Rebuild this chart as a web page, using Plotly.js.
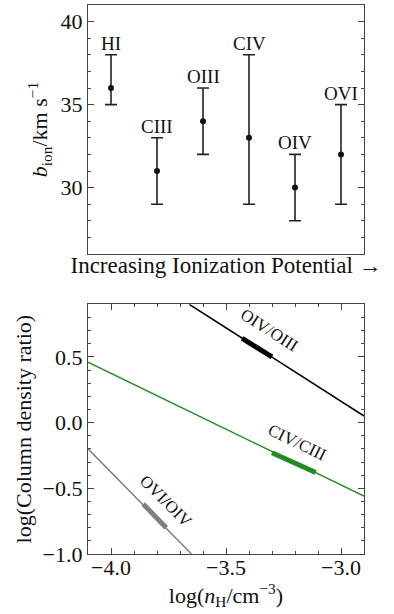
<!DOCTYPE html>
<html>
<head>
<meta charset="utf-8">
<script src="https://cdn.plot.ly/plotly-3.0.1.min.js"></script>
<style>
  html, body { margin: 0; padding: 0; background: #fff; }
  #chart { width: 394px; height: 614px; }
</style>
</head>
<body>
<div id="chart"></div>
<script>
// top panel: Doppler b per ion
const ions = ["HI", "CIII", "OIII", "CIV", "OIV", "OVI"];
const bVals = [36, 31, 34, 33, 30, 32];
const bUpper = [38, 33, 36, 38, 32, 35];
const bLower = [35, 29, 32, 29, 28, 29];

// bottom panel: column density ratio vs log nH
const oivX = [-3.66, -2.9];
const oivY = [0.90, 0.05];
const oivFitX = [-3.43, -3.30];
const oivFitY = [0.64, 0.50];

const civX = [-4.1, -2.9];
const civY = [0.46, -0.56];
const civFitX = [-3.30, -3.11];
const civFitY = [-0.23, -0.38];

const oviX = [-4.1, -3.65];
const oviY = [-0.20, -1.00];
const oviFitX = [-3.86, -3.76];
const oviFitY = [-0.62, -0.80];

const ratioLabels = [
  { text: "OIV/OIII", x: -3.31, y: 0.70, angle: 32.7 },
  { text: "CIV/CIII", x: -3.19, y: -0.15, angle: 26 },
  { text: "OVI/OIV", x: -3.76, y: -0.60, angle: 45 }
];

const FONT = "Liberation Serif, DejaVu Serif, serif";
const AX = "#444";

const xIdx = ions.map((_, i) => i);

const traces = [
  {
    x: xIdx, y: bVals, type: "scatter", mode: "markers", xaxis: "x", yaxis: "y",
    marker: { color: "#111", size: 6 },
    error_y: {
      type: "data", symmetric: false,
      array: bUpper.map((u, i) => u - bVals[i]),
      arrayminus: bLower.map((l, i) => bVals[i] - l),
      color: "#222", thickness: 1.6, width: 6
    },
    hoverinfo: "skip"
  },
  { x: oivX, y: oivY, xaxis: "x2", yaxis: "y2", mode: "lines", line: { color: "#000", width: 1.5 } },
  { x: oivFitX, y: oivFitY, xaxis: "x2", yaxis: "y2", mode: "lines", line: { color: "#000", width: 5 } },
  { x: civX, y: civY, xaxis: "x2", yaxis: "y2", mode: "lines", line: { color: "#228b22", width: 1.5 } },
  { x: civFitX, y: civFitY, xaxis: "x2", yaxis: "y2", mode: "lines", line: { color: "#228b22", width: 5 } },
  { x: oviX, y: oviY, xaxis: "x2", yaxis: "y2", mode: "lines", line: { color: "#808080", width: 1.5 } },
  { x: oviFitX, y: oviFitY, xaxis: "x2", yaxis: "y2", mode: "lines", line: { color: "#808080", width: 5 } }
];

const annotations = [];
ions.forEach((name, i) => {
  annotations.push({
    x: i, y: bUpper[i], xref: "x", yref: "y", text: name, showarrow: false,
    yanchor: "bottom", yshift: -1, font: { family: FONT, size: 19, color: "#111" }
  });
});
ratioLabels.forEach((r) => {
  annotations.push({
    x: r.x, y: r.y, xref: "x2", yref: "y2", text: r.text, showarrow: false,
    textangle: r.angle, font: { family: FONT, size: 17, color: "#111" }
  });
});

const baseAxis = {
  showgrid: false, zeroline: false, showline: true, linecolor: AX, linewidth: 1.2,
  mirror: "ticks", ticks: "inside", ticklen: 6, tickwidth: 1, tickcolor: AX,
  tickfont: { family: FONT, size: 22, color: "#111" }
};

const layout = {
  width: 394, height: 614,
  paper_bgcolor: "#fff", plot_bgcolor: "#fff",
  showlegend: false,
  margin: { l: 88, r: 30, t: 5, b: 60 },
  font: { family: FONT, color: "#111" },
  xaxis: Object.assign({}, baseAxis, {
    domain: [0, 1], anchor: "y", range: [-0.5, 5.5],
    ticks: "", mirror: true, showticklabels: false,
    title: { text: "Increasing Ionization Potential →", font: { family: FONT, size: 23 }, standoff: 2 }
  }),
  yaxis: Object.assign({}, baseAxis, {
    domain: [0.5464, 1], anchor: "x", range: [26, 41],
    tick0: 0, dtick: 5,
    minor: { dtick: 1, ticks: "inside", ticklen: 3, tickcolor: AX },
    title: { text: "<i>b</i><sub>ion</sub>/km s<sup>−1</sup>", font: { family: FONT, size: 22 }, standoff: 6 }
  }),
  xaxis2: Object.assign({}, baseAxis, {
    domain: [0, 1], anchor: "y2", range: [-4.1, -2.9],
    tick0: 0, dtick: 0.5, tickformat: ".1f", ticklabelstandoff: -7,
    minor: { dtick: 0.1, ticks: "inside", ticklen: 3, tickcolor: AX },
    title: { text: "log(<i>n</i><sub>H</sub>/cm<sup>−3</sup>)", font: { family: FONT, size: 22 }, standoff: 4 }
  }),
  yaxis2: Object.assign({}, baseAxis, {
    domain: [0, 0.4548], anchor: "x2", range: [-1.0, 0.9],
    tick0: 0, dtick: 0.5, tickformat: ".1f",
    minor: { dtick: 0.1, ticks: "inside", ticklen: 3, tickcolor: AX },
    title: { text: "log(Column density ratio)", font: { family: FONT, size: 22 }, standoff: 4 }
  }),
  annotations: annotations
};

Plotly.newPlot("chart", traces, layout, { displayModeBar: false, staticPlot: true });
</script>
</body>
</html>
